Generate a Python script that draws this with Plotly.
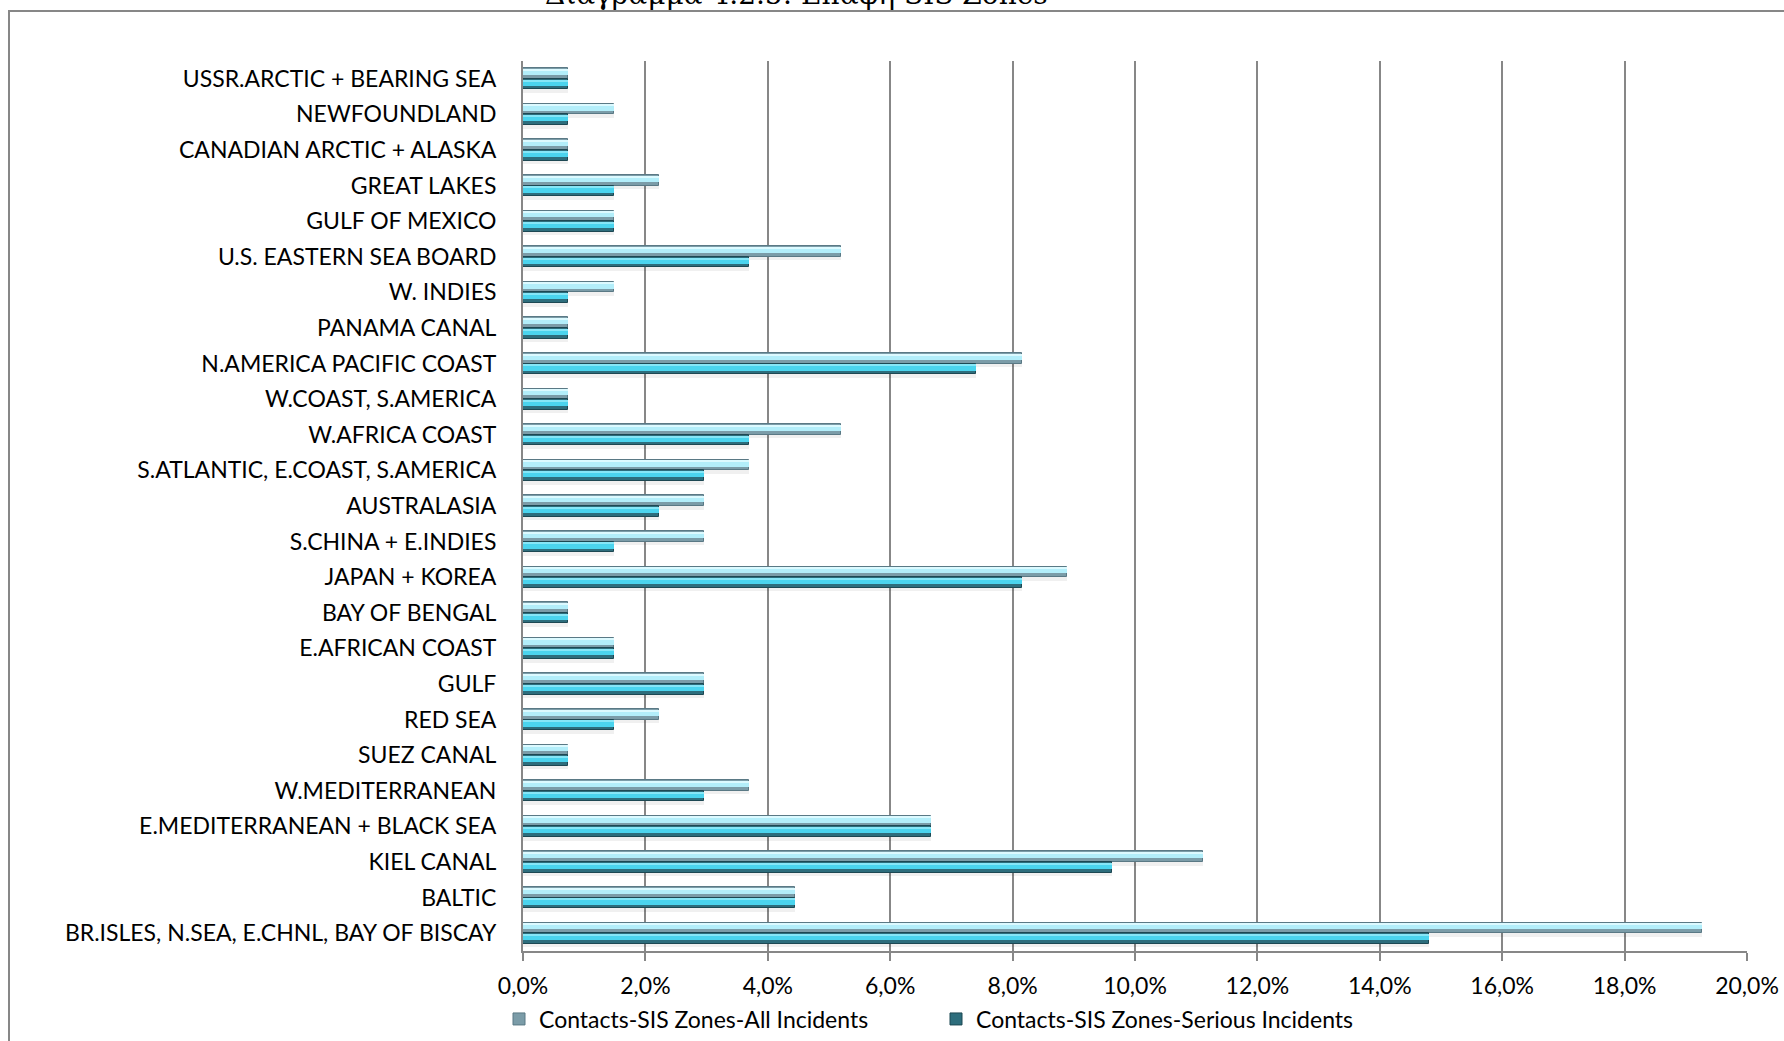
import plotly.graph_objects as go

# Zones, listed top to bottom as they appear on the chart
zones = [
    "USSR.ARCTIC + BEARING SEA",
    "NEWFOUNDLAND",
    "CANADIAN ARCTIC + ALASKA",
    "GREAT LAKES",
    "GULF OF MEXICO",
    "U.S. EASTERN SEA BOARD",
    "W. INDIES",
    "PANAMA CANAL",
    "N.AMERICA PACIFIC COAST",
    "W.COAST, S.AMERICA",
    "W.AFRICA COAST",
    "S.ATLANTIC, E.COAST, S.AMERICA",
    "AUSTRALASIA",
    "S.CHINA + E.INDIES",
    "JAPAN + KOREA",
    "BAY OF BENGAL",
    "E.AFRICAN COAST",
    "GULF",
    "RED SEA",
    "SUEZ CANAL",
    "W.MEDITERRANEAN",
    "E.MEDITERRANEAN + BLACK SEA",
    "KIEL CANAL",
    "BALTIC",
    "BR.ISLES, N.SEA, E.CHNL, BAY OF BISCAY",
]

# Share of contacts per zone (%)
all_incidents = [
    0.74, 1.48, 0.74, 2.22, 1.48, 5.19, 1.48, 0.74, 8.15, 0.74,
    5.19, 3.70, 2.96, 2.96, 8.89, 0.74, 1.48, 2.96, 2.22, 0.74,
    3.70, 6.67, 11.11, 4.44, 19.26,
]
serious_incidents = [
    0.74, 0.74, 0.74, 1.48, 1.48, 3.70, 0.74, 0.74, 7.41, 0.74,
    3.70, 2.96, 2.22, 1.48, 8.15, 0.74, 1.48, 2.96, 1.48, 0.74,
    2.96, 6.67, 9.63, 4.44, 14.81,
]

series_names = ["Contacts-SIS Zones-All Incidents", "Contacts-SIS Zones-Serious Incidents"]
x_ticks = list(range(0, 21, 2))
x_tick_text = [f"{v:.1f}%".replace(".", ",") for v in x_ticks]

GRID = "#878787"
FONT = "Lato"
BAR_W = 0.30

fig = go.Figure()


def bevel_bar(values, offset, name, shade_low, shade_high, shine, edge):
    # soft drop shadow just under the bar
    fig.add_trace(go.Bar(
        y=zones, x=values, orientation="h", offset=offset + 0.10, width=BAR_W,
        marker=dict(color="rgba(0,0,0,0.06)", line=dict(width=0)),
        showlegend=False, hoverinfo="skip",
    ))
    # body of the bar (darker lower part)
    fig.add_trace(go.Bar(
        y=zones, x=values, orientation="h", offset=offset, width=BAR_W, name=name,
        marker=dict(color=shade_low, line=dict(color=edge, width=1)),
        showlegend=True,
    ))
    # bright upper part
    fig.add_trace(go.Bar(
        y=zones, x=values, orientation="h", offset=offset + 0.02, width=BAR_W * 0.58,
        marker=dict(color=shade_high, line=dict(width=0)),
        showlegend=False, hoverinfo="skip",
    ))
    # thin glossy line near the top edge
    fig.add_trace(go.Bar(
        y=zones, x=values, orientation="h", offset=offset + 0.035, width=0.03,
        marker=dict(color=shine, line=dict(width=0)),
        showlegend=False, hoverinfo="skip",
    ))


bevel_bar(all_incidents, -BAR_W, series_names[0],
          "#7b9ca8", "#b3eefa", "#dcfaff", "#5a7985")
bevel_bar(serious_incidents, 0.0, series_names[1],
          "#2d6d7c", "#4bd4ee", "#86e6f7", "#1d4853")

fig.update_layout(
    width=1784, height=1041,
    margin=dict(l=523, r=37, t=61, b=90, autoexpand=False),
    paper_bgcolor="white", plot_bgcolor="white",
    barmode="overlay", bargap=0,
    font=dict(family=FONT, size=23, color="#000000"),
    xaxis=dict(
        range=[0, 20], tickvals=x_ticks, ticktext=x_tick_text,
        showgrid=True, gridcolor=GRID, gridwidth=1.5,
        showline=True, linecolor=GRID, linewidth=2,
        ticks="outside", ticklen=8, tickcolor=GRID, tickwidth=1.5,
        ticklabelstandoff=5, zeroline=False, automargin=False,
        tickfont=dict(family=FONT, size=23, color="#000000"),
    ),
    yaxis=dict(
        categoryorder="array", categoryarray=zones, autorange="reversed",
        showgrid=False, showline=True, linecolor=GRID, linewidth=2,
        ticks="", ticklabelstandoff=20, automargin=False,
        tickfont=dict(family=FONT, size=23, color="#000000"),
    ),
    legend=dict(
        orientation="h", x=(499 - 523) / 1224, xanchor="left",
        y=(951 - 1019) / 890, yanchor="middle",
        entrywidth=392, entrywidthmode="pixels",
        font=dict(family=FONT, size=23, color="#000000"),
        bgcolor="rgba(0,0,0,0)", traceorder="normal",
    ),
)

# outer chart frame
fig.add_shape(
    type="rect", xref="paper", yref="paper",
    x0=(9 - 523) / 1224, x1=1.2, y0=-0.5, y1=(951 - 11) / 890,
    line=dict(color=GRID, width=2), fillcolor="rgba(0,0,0,0)", layer="below",
)

# caption above the frame
fig.add_annotation(
    text="Διάγραμμα 4.2.5: Επαφή SIS Zones",
    xref="paper", yref="paper", x=(796 - 523) / 1224, y=(951 - 13) / 890,
    xanchor="center", yanchor="bottom", showarrow=False,
    font=dict(family="DejaVu Serif", size=28, color="#000000"),
)

fig.write_html("out.html")
